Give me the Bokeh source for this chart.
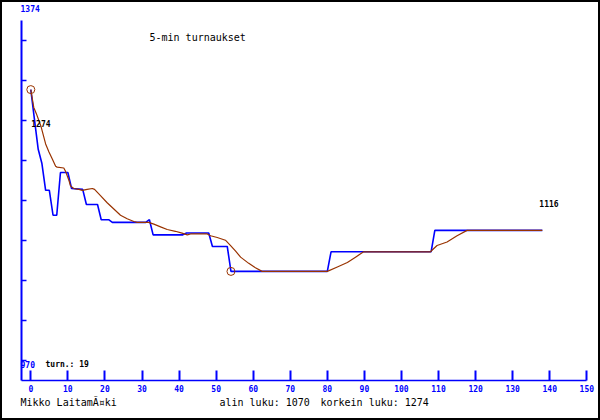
from bokeh.plotting import figure
from bokeh.models import Range1d, FixedTicker, Label, CustomJSTickFormatter
from bokeh.embed import file_html
from bokeh.resources import INLINE

# ---------------- data ----------------
title_text = "5-min turnaukset"
author_text = "Mikko LaitamÃ¤ki"
tournaments = 19

# blue: rating after each game (break points of the stepped line)
blue_x = [0, 1, 2, 3, 4, 5, 6, 7, 8, 10, 11, 14, 15, 18, 19, 21, 22, 31, 32, 33,
          41, 42, 48, 49, 53, 54, 80, 81, 108, 109, 138]
blue_r = [1274, 1240, 1207, 1191, 1161, 1161, 1133, 1133, 1181, 1181, 1163, 1162,
          1145, 1145, 1128, 1128, 1125, 1125, 1128, 1111, 1111, 1113, 1113, 1098,
          1098, 1070, 1070, 1092, 1092, 1116, 1116]

# brown: smoothed rating
avg_x = [0, 0.4, 0.8, 1.5, 2.2, 2.8, 3.5, 4.0, 4.9, 5.8, 6.7, 7.1, 8.9, 9.4, 10.3,
         10.7, 11.6, 13.0, 13.9, 15.2, 16.6, 17.2, 18.8, 20.6, 22.4, 24.2, 26.0,
         27.8, 28.7, 31.8, 33.2, 35.0, 36.8, 39.0, 40.8, 42.2, 43.1, 47.6, 48.5,
         50.3, 52.5, 53.9, 55.2, 56.6, 58.8, 60.6, 62.4, 80.0, 82.7, 85.4, 87.6,
         89.8, 107.8, 109.6, 112.3, 115.0, 117.7, 138]
avg_r = [1274, 1264, 1254, 1247, 1239, 1232, 1221, 1213, 1204, 1196, 1188, 1187,
         1186, 1182, 1172, 1166, 1163, 1162, 1161, 1162, 1163, 1162, 1155, 1147,
         1140, 1133, 1129, 1126, 1125, 1125, 1123, 1120, 1117, 1115, 1113, 1111,
         1112, 1112, 1110, 1108, 1105, 1099, 1093, 1086, 1079, 1074, 1070, 1070,
         1075, 1080, 1086, 1092, 1092, 1099, 1103, 1110, 1116, 1116]

x_ticks = list(range(0, 151, 10))

# ---------------- styling / layout ----------------
BLUE = "#0000ff"
BROWN = "#993300"
MONO = "DejaVu Sans Mono"

W, H = 600, 420

lo, hi = min(blue_r), max(blue_r)
y_lo, y_hi = lo - 100, hi + 100
upp_y = (y_hi - y_lo) / 360.0          # rating units per pixel (y_lo at 360 px, y_hi at 0 px)
px_per_x = 3.7067
x0_px = 30.3                             # pixel column of x = 0

def xv(px):
    return (px - x0_px) / px_per_x

def yv(py):
    return y_lo + (360 - py) * upp_y

p = figure(width=W, height=H, output_backend="svg", toolbar_location=None,
           x_range=Range1d(xv(0), xv(W)), y_range=Range1d(yv(H), yv(0)),
           min_border=0, min_border_left=0, min_border_right=0,
           min_border_top=0, min_border_bottom=0)
p.background_fill_color = "white"
p.border_fill_color = "white"
p.outline_line_color = "black"
p.outline_line_width = 3
p.xgrid.visible = False
p.ygrid.visible = False

# x axis (drawn inside the frame)
xa = p.xaxis[0]
xa.fixed_location = yv(380)
xa.bounds = (xv(21), 150)
xa.ticker = FixedTicker(ticks=x_ticks)
xa.axis_line_color = BLUE
xa.axis_line_width = 1.5
xa.major_tick_line_color = BLUE
xa.major_tick_line_width = 2
xa.major_tick_in = 10
xa.major_tick_out = 0
xa.minor_tick_line_color = None
xa.major_label_text_color = BLUE
xa.major_label_text_font = MONO
xa.major_label_text_font_style = "bold"
xa.major_label_text_font_size = "8px"
xa.major_label_standoff = 4

# y axis (drawn inside the frame)
ya = p.yaxis[0]
ya.fixed_location = xv(21)
ya.bounds = (yv(380), yv(20))
ya.ticker = FixedTicker(ticks=[y_lo + k * (y_hi - y_lo) / 9 for k in range(9)])
ya.formatter = CustomJSTickFormatter(code="return ''")
ya.axis_line_color = BLUE
ya.axis_line_width = 2
ya.major_tick_line_color = BLUE
ya.major_tick_line_width = 1.5
ya.major_tick_in = 5
ya.major_tick_out = 0
ya.minor_tick_line_color = None
ya.major_label_standoff = 0

# lines
p.line(blue_x, blue_r, line_color=BLUE, line_width=1.6)
p.line(avg_x, avg_r, line_color=BROWN, line_width=1.2)

i_hi = blue_r.index(hi)
i_lo = blue_r.index(lo)
p.scatter([blue_x[i_hi], blue_x[i_lo]], [hi, lo], marker="circle", size=8,
          fill_color=None, line_color=BROWN, line_width=1)

def lab(text, x, y, color="black", size="8px", style="bold", units="screen",
        xo=0, yo=0):
    p.add_layout(Label(x=x, y=y, x_units=units, y_units=units, text=text,
                       x_offset=xo, y_offset=yo,
                       text_font=MONO, text_font_size=size, text_font_style=style,
                       text_color=color, text_baseline="middle", text_align="left"))

# screen positions: x from the left edge, y from the bottom edge
lab(title_text, 149, H - 37, size="10px", style="normal")
lab(str(y_hi), 20, H - 8, color=BLUE)
lab(str(y_lo), 20, H - 364, color=BLUE)
lab("turn.: %d" % tournaments, 45, H - 364)
lab(str(hi), blue_x[i_hi], hi, units="data", xo=0.5, yo=-34)
lab(str(blue_r[-1]), blue_x[-1], blue_r[-1], units="data", xo=-3, yo=27)
lab(author_text, 20, H - 402, size="10px", style="normal")
lab("alin luku: %d" % lo, 219, H - 402, size="10px", style="normal")
lab("korkein luku: %d" % hi, 320, H - 402, size="10px", style="normal")

open("out.html", "w").write(file_html(p, INLINE))
